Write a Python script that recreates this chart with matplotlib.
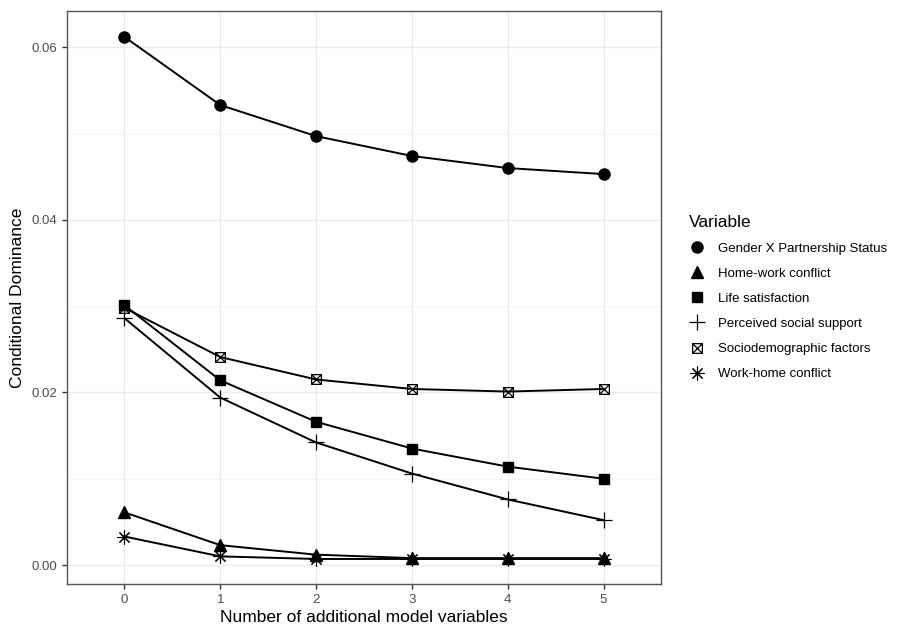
import matplotlib.pyplot as plt
from matplotlib.path import Path
from matplotlib.ticker import MultipleLocator

plt.rcParams['font.family'] = ['Liberation Sans', 'DejaVu Sans']

# Data
steps = [0, 1, 2, 3, 4, 5]
gender_partnership = [0.0612, 0.0533, 0.0497, 0.0474, 0.0460, 0.0453]
home_work = [0.0061, 0.0023, 0.0012, 0.0008, 0.0008, 0.0008]
life_satisfaction = [0.0301, 0.0214, 0.0166, 0.0135, 0.0114, 0.0100]
social_support = [0.0286, 0.0194, 0.0142, 0.0106, 0.0076, 0.0052]
sociodemographic = [0.0298, 0.0241, 0.0215, 0.0204, 0.0201, 0.0204]
work_home = [0.0033, 0.0010, 0.0007, 0.0007, 0.0007, 0.0007]

# square with a cross (ggplot shape 7)
square_x = Path(
    [(-1, -1), (1, -1), (1, 1), (-1, 1), (-1, -1), (-1, -1), (1, 1), (-1, 1), (1, -1)],
    [Path.MOVETO, Path.LINETO, Path.LINETO, Path.LINETO, Path.LINETO,
     Path.MOVETO, Path.LINETO, Path.MOVETO, Path.LINETO])

series = [
    ('Gender X Partnership Status', gender_partnership, dict(marker='o', markersize=8)),
    ('Home-work conflict', home_work, dict(marker='^', markersize=9)),
    ('Life satisfaction', life_satisfaction, dict(marker='s', markersize=7.5)),
    ('Perceived social support', social_support,
     dict(marker='+', markersize=11, markeredgewidth=0.9)),
    ('Sociodemographic factors', sociodemographic,
     dict(marker=square_x, markersize=7, markerfacecolor='none', markeredgewidth=0.9)),
    ('Work-home conflict', work_home,
     dict(marker=(8, 2, 0), markersize=10, markeredgewidth=0.8)),
]

fig = plt.figure(figsize=(8.99, 6.27), dpi=100)
ax = fig.add_axes([67 / 899, 1 - 584 / 627, (661 - 67) / 899, (584 - 11) / 627])

handles = []
for name, vals, style in series:
    line, = ax.plot(steps, vals, color='black', linewidth=1.4, label=name,
                    markeredgecolor='black', zorder=3, **style)
    handles.append(line)

ax.set_xlim(-0.6, 5.6)
ax.set_ylim(-0.0022, 0.0642)
ax.set_xticks(steps)
ax.yaxis.set_major_locator(MultipleLocator(0.02))
ax.yaxis.set_minor_locator(MultipleLocator(0.01))
ax.yaxis.set_major_formatter(plt.FuncFormatter(lambda v, p: f'{v:.2f}'))

ax.grid(True, which='major', color='#EBEBEB', linewidth=1.0, zorder=0)
ax.grid(True, which='minor', axis='y', color='#F2F2F2', linewidth=0.6, zorder=0)
ax.set_axisbelow(True)
for sp in ax.spines.values():
    sp.set_color('#555555')
    sp.set_linewidth(1.0)
ax.tick_params(axis='both', which='major', colors='#333333', labelcolor='#4D4D4D',
               labelsize=9.5, length=3.5, width=1.0)
ax.tick_params(axis='y', which='minor', length=0)

ax.set_xlabel('Number of additional model variables', fontsize=12.5, labelpad=3)
ax.set_ylabel('Conditional Dominance', fontsize=12.5, labelpad=5)

leg = fig.legend(handles=handles, loc='upper left', bbox_to_anchor=(685 / 899, 1 - 211 / 627),
                 title='Variable', frameon=False, fontsize=9.5, title_fontsize=12.5,
                 handlelength=1.2, handletextpad=1.0, labelspacing=0.97,
                 borderpad=0.3, borderaxespad=0, alignment='left')
for h in leg.legend_handles:
    h.set_linestyle('none')

fig.savefig('out.png', dpi=100)
